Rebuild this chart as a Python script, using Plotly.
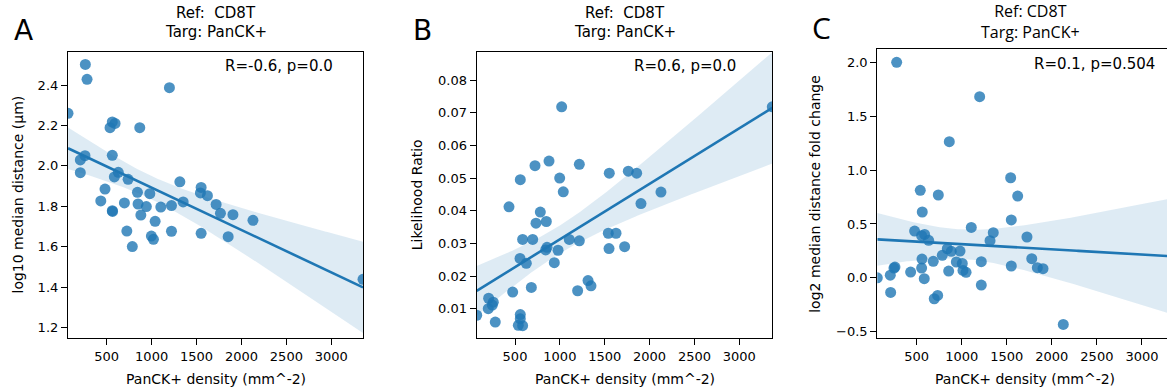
import numpy as np
import plotly.graph_objects as go

# ---------------- data ----------------
density_a = [69, 262, 281, 1198, 258, 206, 206, 537, 562, 593, 868, 562, 629, 585, 738,
             481, 434, 562, 565, 697, 842, 980, 849, 941, 880, 1102, 1221, 1039, 724, 785,
             997, 1020, 1221, 1314, 1351, 1551, 1543, 1621, 1718, 1766, 1905, 1551, 1852,
             2128, 3353]
log10_median_distance = [2.26, 2.502, 2.428, 2.387, 2.05, 2.029, 1.966, 2.189, 2.217, 2.21,
                         2.189, 2.052, 1.968, 1.945, 1.933, 1.885, 1.826, 1.778, 1.774, 1.816,
                         1.869, 1.862, 1.811, 1.798, 1.756, 1.796, 1.803, 1.725, 1.677, 1.60,
                         1.652, 1.636, 1.676, 1.921, 1.821, 1.893, 1.866, 1.852, 1.809, 1.765,
                         1.758, 1.666, 1.649, 1.730, 1.438]

density_b = [73, 3368, 1020, 879, 723, 1217, 559, 998, 1038, 1551, 1763, 1856, 2127, 1904,
             433, 782, 734, 849, 585, 697, 1105, 1217, 1540, 1626, 1722, 1548, 857, 842, 980,
             556, 626, 938, 1314, 1347, 1198, 682, 474, 206, 258, 202, 247, 280, 559, 559,
             537, 585]
likelihood_ratio = [0.0080, 0.0718, 0.0718, 0.0552, 0.0538, 0.0542, 0.0495, 0.0500, 0.0458,
                    0.0515, 0.0521, 0.0515, 0.0457, 0.0422, 0.0412, 0.0396, 0.0362, 0.0367,
                    0.0312, 0.0312, 0.0312, 0.0308, 0.0331, 0.0331, 0.0290, 0.0284, 0.0288,
                    0.0280, 0.0279, 0.0254, 0.0239, 0.0241, 0.0186, 0.0170, 0.0155, 0.0165,
                    0.0151, 0.0132, 0.0120, 0.0100, 0.0111, 0.0059, 0.0082, 0.0069, 0.0049,
                    0.0048]

density_c = [63, 278, 1199, 862, 1543, 1621, 540, 740, 562, 1550, 1106, 477, 588, 555, 633,
             1350, 1314, 1724, 840, 884, 981, 784, 559, 684, 940, 1006, 1217, 1777, 1550,
             1839, 1902, 259, 248, 555, 433, 855, 1014, 1048, 207, 584, 211, 1217, 695, 733,
             2127, 3350]
log2_fold_change = [0.0, 2.0, 1.681, 1.264, 0.929, 0.759, 0.812, 0.769, 0.611, 0.537, 0.468,
                    0.434, 0.403, 0.391, 0.348, 0.419, 0.345, 0.379, 0.270, 0.246, 0.249,
                    0.209, 0.174, 0.153, 0.147, 0.134, 0.150, 0.178, 0.110, 0.094, 0.085,
                    0.100, 0.091, 0.091, 0.054, 0.063, 0.069, 0.051, 0.025, -0.008, -0.135,
                    -0.067, -0.194, -0.163, -0.432, 0.12]

panel_letters = ["A", "B", "C"]
title_ref = ["Ref:  CD8T", "Ref:  CD8T", "Ref: CD8T"]
title_targ = ["Targ: PanCK+", "Targ: PanCK+", "Targ: PanCK+"]
stat_text = ["R=-0.6, p=0.0", "R=0.6, p=0.0", "R=0.1, p=0.504"]
y_titles = ["log10 median distance (\u00b5m)", "Likelihood Ratio", "log2 median distance fold change"]
x_title = "PanCK+ density (mm^-2)"
x_ticks = [500, 1000, 1500, 2000, 2500, 3000]
y_ticks_a = [1.2, 1.4, 1.6, 1.8, 2.0, 2.2, 2.4]
y_ticks_b = [0.01, 0.02, 0.03, 0.04, 0.05, 0.06, 0.07, 0.08]
y_ticks_c = [-0.5, 0.0, 0.5, 1.0, 1.5, 2.0]

# ---------------- layout helpers ----------------
W, H = 1167, 392
def fx(px):
    return px / W
def fy(py):
    return 1 - py / H

BLUE = "#1f77b4"
BAND = "rgba(31,119,180,0.15)"
T95 = 2.015
FONT = "DejaVu Sans"
ALT_FONT = "Open Sans"


def reg_band(x, y):
    x = np.asarray(x, float)
    y = np.asarray(y, float)
    n = len(x)
    b, a = np.polyfit(x, y, 1)
    xs = np.linspace(x.min(), x.max(), 200)
    yh = a + b * xs
    resid = y - (a + b * x)
    s = np.sqrt((resid ** 2).sum() / (n - 2))
    sxx = ((x - x.mean()) ** 2).sum()
    se = s * np.sqrt(1.0 / n + (xs - x.mean()) ** 2 / sxx)
    return xs, yh, yh - T95 * se, yh + T95 * se


panels = [
    dict(x=density_a, y=log10_median_distance, box=(68, 363, 51.7, 338.3),
         xr=[69, 3353], yr=[1.146, 2.565], yt=y_ticks_a,
         ytt=["%.1f" % v for v in y_ticks_a]),
    dict(x=density_b, y=likelihood_ratio, box=(476.7, 772.3, 52.3, 338.3),
         xr=[73, 3368], yr=[0.00094, 0.0885], yt=y_ticks_b,
         ytt=["%.2f" % v for v in y_ticks_b]),
    dict(x=density_c, y=log2_fold_change, box=(877.3, 1167, 49.3, 338.3),
         xr=[63, 3278], yr=[-0.561, 2.121], yt=y_ticks_c,
         ytt=[("%.1f" % v).replace("-", "\u2212") for v in y_ticks_c]),
]

fig = go.Figure()
layout = dict(width=W, height=H, margin=dict(l=0, r=0, t=0, b=0),
              paper_bgcolor="white", plot_bgcolor="white", showlegend=False)

axis_common = dict(showline=True, linecolor="black", linewidth=1.2, ticks="outside",
                   ticklen=6, tickwidth=1.2, tickcolor="black", showgrid=False,
                   zeroline=False, tickfont=dict(family=FONT, size=13, color="black"))

annotations = []
for i, p in enumerate(panels):
    k = "" if i == 0 else str(i + 1)
    xa, ya = "x" + k, "y" + k
    xs, yh, lo, hi = reg_band(p["x"], p["y"])
    fig.add_trace(go.Scatter(x=np.concatenate([xs, xs[::-1]]), y=np.concatenate([hi, lo[::-1]]),
                             fill="toself", fillcolor=BAND, line=dict(width=0),
                             mode="lines", hoverinfo="skip", xaxis=xa, yaxis=ya))
    fig.add_trace(go.Scatter(x=p["x"], y=p["y"], mode="markers",
                             marker=dict(size=11, color=BLUE, opacity=0.8, line=dict(width=0)),
                             xaxis=xa, yaxis=ya, cliponaxis=True))
    fig.add_trace(go.Scatter(x=xs, y=yh, mode="lines", line=dict(color=BLUE, width=2.6),
                             xaxis=xa, yaxis=ya))
    l, r, t, b = p["box"]
    layout["xaxis" + k] = dict(axis_common, domain=[fx(l), fx(r)], range=p["xr"],
                               anchor=ya, tickvals=x_ticks, ticktext=[str(v) for v in x_ticks],
                               mirror=True)
    layout["yaxis" + k] = dict(axis_common, domain=[fy(b), fy(t)], range=p["yr"],
                               anchor=xa, tickvals=p["yt"], ticktext=p["ytt"],
                               mirror=(i < 2))
    cx = (l + 295 / 2) if i == 2 else (l + r) / 2
    if i < 2:
        annotations += [
            dict(text=panel_letters[i], x=fx([23, 422][i]), y=fy(30), xref="paper",
                 yref="paper", showarrow=False, xanchor="center", yanchor="middle",
                 font=dict(family=FONT, size=28, color="black")),
            dict(text=title_ref[i], x=fx(cx), y=fy(13), xref="paper", yref="paper",
                 showarrow=False, xanchor="center", yanchor="middle",
                 font=dict(family=FONT, size=15, color="black")),
            dict(text=title_targ[i], x=fx(cx), y=fy(32), xref="paper", yref="paper",
                 showarrow=False, xanchor="center", yanchor="middle",
                 font=dict(family=FONT, size=15, color="black")),
        ]
    else:
        annotations += [
            dict(text=panel_letters[i], x=fx(821), y=fy(28), xref="paper",
                 yref="paper", showarrow=False, xanchor="center", yanchor="middle",
                 font=dict(family=ALT_FONT, size=30, color="black")),
            dict(text=title_ref[i] + "<br>" + title_targ[i], x=fx(1030), y=fy(21.5),
                 xref="paper", yref="paper", showarrow=False, xanchor="center",
                 yanchor="middle", align="center",
                 font=dict(family=ALT_FONT, size=16, color="black")),
        ]
    annotations += [
        dict(text=stat_text[i], x=fx(l + 155), y=fy(66 if i < 2 else 64), xref="paper",
             yref="paper", showarrow=False, xanchor="left", yanchor="middle",
             font=dict(family=FONT, size=15, color="black")),
        dict(text=x_title, x=fx(cx), y=fy(379), xref="paper", yref="paper",
             showarrow=False, xanchor="center", yanchor="middle",
             font=dict(family=FONT, size=14, color="black")),
        dict(text=y_titles[i], x=fx([17.5, 417, 815][i]), y=fy((t + b) / 2), xref="paper",
             yref="paper", showarrow=False, xanchor="center", yanchor="middle", textangle=-90,
             font=dict(family=FONT, size=14, color="black")),
    ]

layout["annotations"] = annotations
fig.update_layout(**layout)
fig.write_html("out.html")
